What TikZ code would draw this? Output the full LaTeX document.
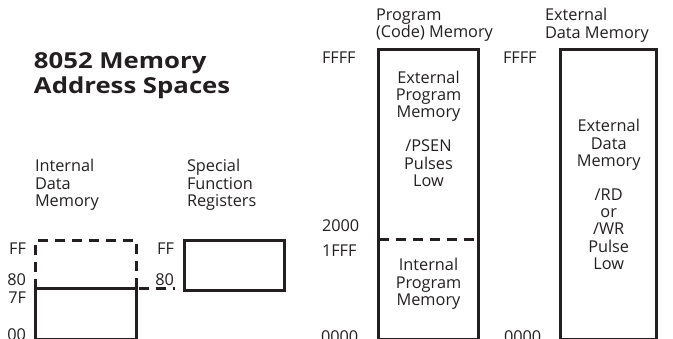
\documentclass[tikz,border=0pt]{standalone}
\usepackage{fontspec}
\setmainfont{Open Sans}
\newfontfamily\ttlfont[FakeStretch=1.17]{Open Sans}
\definecolor{ink}{HTML}{231F20}
\begin{document}
\begin{tikzpicture}[x=1pt,y=-1pt,
  every node/.style={inner sep=0pt,outer sep=0pt,text=ink},
  txt/.style={font=\fontsize{16.3}{17.2}\selectfont},
  lbl/.style={txt,align=left,anchor=north west},
  ctr/.style={txt,align=center,anchor=north},
  addr/.style={txt,anchor=base east},
  addrl/.style={txt,anchor=base west},
  ttl/.style={font=\ttlfont\fontsize{22}{25.5}\selectfont\bfseries,align=left,anchor=north west},
  box/.style={draw=ink,line width=3pt},
  dsh/.style={draw=ink,line width=3pt,dash pattern=on 10pt off 7pt}
]
\useasboundingbox (0,0) rectangle (673,339);
% title
\node[ttl] (title) at (34,52.5) {8052 Memory\\Address Spaces};
% internal data memory
\node[lbl] (idmL) at (35,159.5) {Internal\\Data\\Memory};
\node[lbl] (sfrL) at (187,159.5) {Special\\Function\\Registers};
\draw[box] (35,340) -- (35,289) -- (136.5,289) -- (136.5,340) -- cycle;
\coordinate (ext) at (175,289);
\draw[dsh] (35,289) -- (35,241) -- (136.5,241) -- (136.5,289);
\draw[dsh,dash phase=-2pt] (136.5,289) -- (ext);
\node[addr] (iFF) at (26,255) {FF};
\node[addr] (i80) at (26,286) {80};
\node[addr] (i7F) at (26,303.3) {7F};
\node[addr] (i00) at (26,340.5) {00};
% SFR
\draw[box] (184,240.7) rectangle (284,290.5);
\node[addr] (sFF) at (174,254.3) {FF};
\node[addr] (s80) at (174,286) {80};
% program memory
\node[lbl] (pmL) at (376,8.5) {Program\\(Code) Memory};
\draw[box] (378.5,50) rectangle (478.5,340);
\draw[dsh] (378.5,239.3) -- (478.5,239.3);
\node[addrl] (pFFFF) at (322,64) {FFFF};
\node[addrl] (p2000) at (322,231.7) {2000};
\node[addrl] (p1FFF) at (322,256.7) {1FFF};
\node[addrl] (p0000) at (321,343) {0000};
\node[ctr] (epm) at (428.5,71) {External\\Program\\Memory\\[17pt]/PSEN\\Pulses\\Low};
\node[ctr] (ipm) at (428.5,258.5) {Internal\\Program\\Memory};
% external data memory
\node[lbl] (edL) at (545,8.5) {External\\Data Memory};
\draw[box] (560.7,49.5) rectangle (656.7,340);
\node[addrl] (eFFFF) at (503,64) {FFFF};
\node[addrl] (e0000) at (504,343) {0000};
\node[ctr] (edm) at (608.7,119.5) {External\\Data\\Memory\\[17pt]/RD\\or\\/WR\\Pulse\\Low};
\end{tikzpicture}
\end{document}
